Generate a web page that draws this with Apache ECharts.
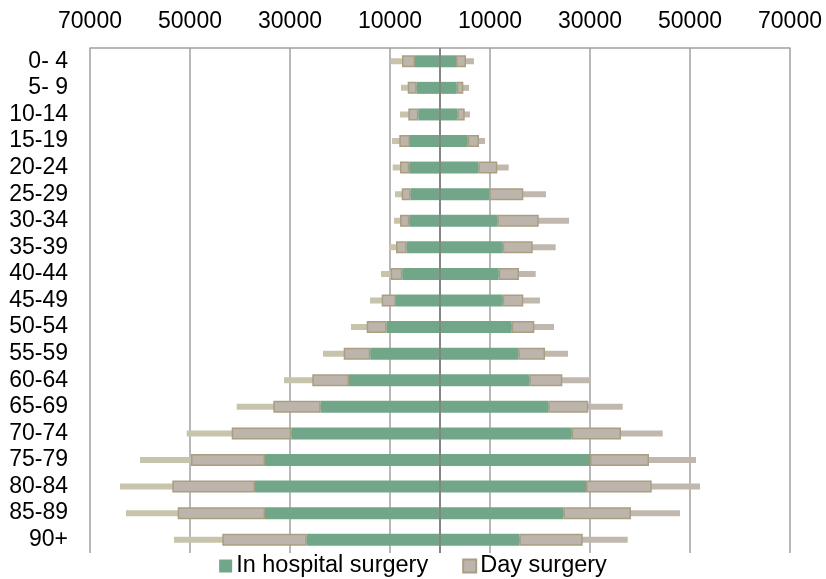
<!DOCTYPE html>
<html>
<head>
<meta charset="utf-8">
<script src="https://cdn.jsdelivr.net/npm/echarts@6/dist/echarts.min.js"></script>
<style>
    html, body { margin: 0; padding: 0; background: #fff; }
    #chart { width: 826px; height: 579px; }
</style>
</head>
<body>
<div id="chart"></div>
<script>
let ageGroups = ['0- 4', '5- 9', '10-14', '15-19', '20-24', '25-29', '30-34', '35-39', '40-44',
    '45-49', '50-54', '55-59', '60-64', '65-69', '70-74', '75-79', '80-84', '85-89', '90+'];

// left half
let leftInHospital = [5000, 4660, 4340, 6000, 6140, 5860, 6140, 6660, 7540, 8800, 10660, 13940,
    18200, 23860, 29740, 35000, 37000, 35000, 26660];
let leftDay = [2600, 1800, 2000, 2140, 1860, 1800, 1860, 2140, 2320, 2860, 4000, 5320,
    7340, 9480, 11920, 14800, 16540, 17460, 16880];
let leftExtra = [2260, 1340, 1660, 1460, 1460, 1340, 1200, 1340, 1940, 2340, 3140, 4140,
    5660, 7320, 9000, 10200, 10460, 10340, 9660];

// right half
let rightInHospital = [3200, 3340, 3460, 5540, 7660, 9860, 11460, 12540, 11740, 12540, 14340, 15660,
    17860, 21660, 26340, 30000, 29200, 24660, 15860];
let rightDay = [2000, 1320, 1480, 2260, 3800, 6800, 8280, 6000, 4060, 4120, 4520, 5340,
    6600, 8000, 9860, 11800, 13140, 13540, 12680];
let rightExtra = [1600, 1140, 1060, 1200, 2280, 4540, 6060, 4600, 3340, 3340, 3940, 4600,
    5540, 6880, 8340, 9400, 9660, 9800, 9000];

let axisTicks = [-70000, 70000, 20000]; // min, max, interval

let font = 'Arial, "Liberation Sans", sans-serif';
let green = '#72a689';
let beige = '#bdb5ab';
let beigeBorder = '#a89e82';

let myChart = echarts.init(document.getElementById('chart'));

// thin bars go from the centre out to the end of the extra part, hidden behind the thick ones
let leftThin = leftInHospital.map((v, i) => -(v + leftDay[i] + leftExtra[i]));
let rightThin = rightInHospital.map((v, i) => v + rightDay[i] + rightExtra[i]);

let option = {
    animation: false,
    textStyle: { fontFamily: font },
    grid: { left: 90, right: 36, top: 48, bottom: 26, containLabel: false },
    legend: {
        data: ['In hospital surgery', 'Day surgery'],
        bottom: -4,
        left: 'center',
        icon: 'rect',
        itemWidth: 13,
        itemHeight: 13,
        itemGap: 34,
        textStyle: { fontSize: 23.5, color: '#000', fontFamily: font, padding: [0, 0, 0, -1] }
    },
    xAxis: {
        type: 'value',
        position: 'top',
        min: axisTicks[0],
        max: axisTicks[1],
        interval: axisTicks[2],
        axisLine: { show: true, lineStyle: { color: '#a0a0a0', width: 1.5 } },
        axisTick: { show: false },
        axisLabel: {
            fontSize: 23,
            color: '#000',
            margin: 15,
            formatter: v => Math.abs(v)
        },
        splitLine: { show: true, lineStyle: { color: '#a0a0a0', width: 1.5 } }
    },
    yAxis: [
        {
            type: 'category',
            data: ageGroups,
            inverse: true,
            axisLine: { show: false },
            axisTick: { show: false },
            axisLabel: { fontSize: 23, color: '#000', margin: 22, interval: 0 }
        },
        {
            type: 'category',
            data: ageGroups,
            inverse: true,
            show: false
        }
    ],
    series: [
        {
            name: 'extra',
            type: 'bar',
            yAxisIndex: 1,
            stack: 'thin',
            barWidth: 6,
            z: 1,
            itemStyle: { color: '#c8c3ab' },
            data: leftThin
        },
        {
            name: 'extra',
            type: 'bar',
            yAxisIndex: 1,
            stack: 'thin',
            barWidth: 6,
            z: 1,
            itemStyle: { color: '#c0b8ae' },
            data: rightThin
        },
        {
            name: 'In hospital surgery',
            type: 'bar',
            stack: 'main',
            barWidth: 12,
            z: 3,
            itemStyle: { color: green },
            data: leftInHospital.map(v => -v),
            markLine: {
                silent: true,
                symbol: 'none',
                label: { show: false },
                lineStyle: { color: '#858585', width: 2, type: 'solid' },
                data: [{ xAxis: 0 }]
            }
        },
        {
            name: 'Day surgery',
            type: 'bar',
            stack: 'main',
            z: 2,
            itemStyle: { color: beige, borderColor: beigeBorder, borderWidth: 1.5 },
            data: leftDay.map(v => -v)
        },
        {
            name: 'In hospital surgery',
            type: 'bar',
            stack: 'main',
            z: 3,
            itemStyle: { color: green },
            data: rightInHospital
        },
        {
            name: 'Day surgery',
            type: 'bar',
            stack: 'main',
            z: 2,
            itemStyle: { color: beige, borderColor: beigeBorder, borderWidth: 1.5 },
            data: rightDay
        }
    ]
};

myChart.setOption(option, true);
</script>
</body>
</html>
